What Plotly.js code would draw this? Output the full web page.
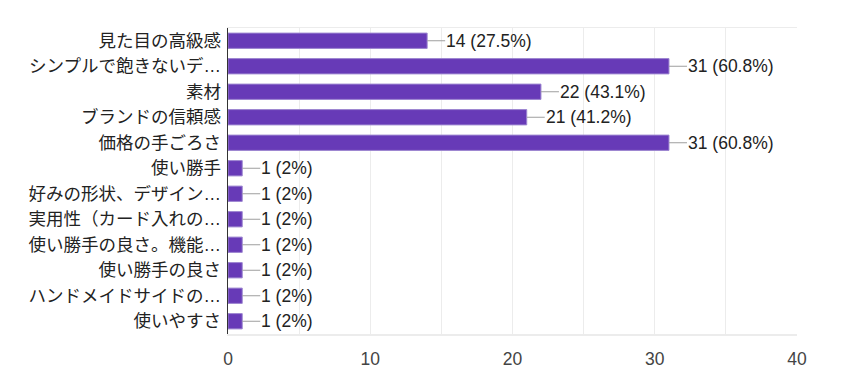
<!DOCTYPE html>
<html><head><meta charset="utf-8">
<script src="https://cdn.plot.ly/plotly-3.0.1.min.js"></script>
<style>html,body{margin:0;padding:0;background:#fff}</style>
</head><body>
<div id="chart" style="width:846px;height:373px"></div>
<script>
var categories = ["見た目の高級感","シンプルで飽きないデ…","素材","ブランドの信頼感","価格の手ごろさ","使い勝手","好みの形状、デザイン…","実用性（カード入れの…","使い勝手の良さ。機能…","使い勝手の良さ","ハンドメイドサイドの…","使いやすさ"];
var counts = [14,31,22,21,31,1,1,1,1,1,1,1];
var labels = ["14 (27.5%)","31 (60.8%)","22 (43.1%)","21 (41.2%)","31 (60.8%)","1 (2%)","1 (2%)","1 (2%)","1 (2%)","1 (2%)","1 (2%)","1 (2%)"];
var tickVals = [0,10,20,30,40];

var fontFam = "'Liberation Sans', Arial, 'Noto Sans CJK JP', sans-serif";
var annotations = categories.map(function(c,i){
  return {x:counts[i], y:c, xref:'x', yref:'y', text:labels[i], showarrow:true,
    arrowhead:0, arrowwidth:1.2, arrowcolor:'#9e9e9e', ax:18, ay:0, xanchor:'left',
    standoff:0, startstandoff:0, borderpad:0,
    font:{family:fontFam, size:17.5, color:'#222'}};
});

var trace = {type:'bar', orientation:'h', x:counts, y:categories,
  marker:{color:'#673ab7', line:{color:'#9c85d0', width:1}}, hoverinfo:'none'};

var layout = {
  width:846, height:373,
  margin:{l:228, r:49, t:28, b:39},
  paper_bgcolor:'#fff', plot_bgcolor:'#fff',
  bargap:0.4,
  showlegend:false,
  font:{family:fontFam, size:17.5, color:'#222'},
  xaxis:{range:[0,40], tickvals:tickVals, showgrid:true, gridcolor:'#ececec', gridwidth:1,
    minor:{dtick:5, showgrid:true, gridcolor:'#ececec'},
    showline:true, mirror:true, linecolor:'#ececec', linewidth:1.5,
    zeroline:false, ticks:'', tickfont:{size:17.5, color:'#444'}, ticklabelstandoff:8, fixedrange:true},
  yaxis:{autorange:'reversed', type:'category', showline:true, linecolor:'#333', linewidth:1.5,
    ticks:'', showgrid:false, zeroline:false, tickfont:{size:17.5, color:'#222'}, ticklabelstandoff:2},
  annotations:annotations
};
Plotly.newPlot('chart',[trace],layout,{displayModeBar:false, staticPlot:true}).then(function(){
  // nothing
});
</script>
</body></html>
